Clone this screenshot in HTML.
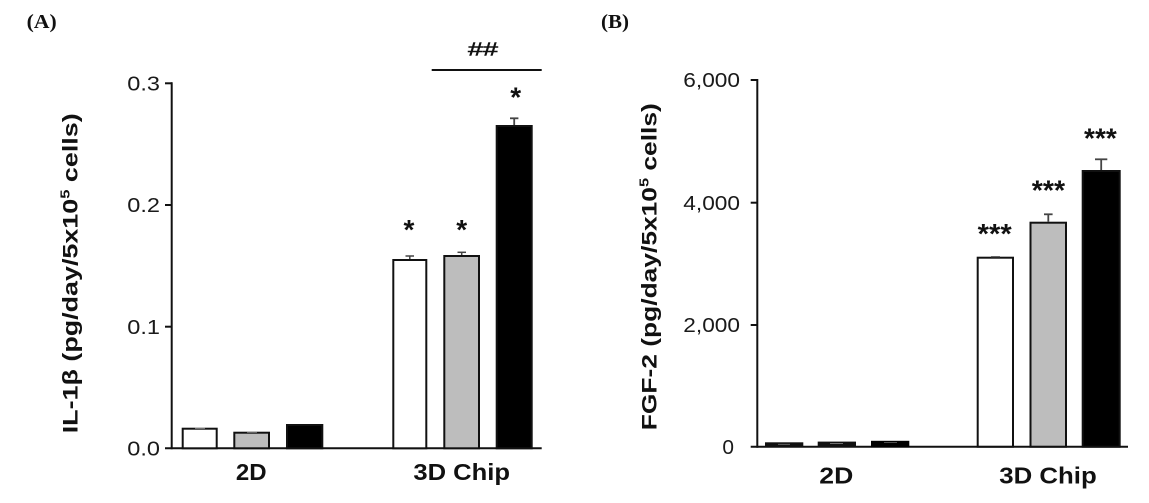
<!DOCTYPE html>
<html>
<head>
<meta charset="utf-8">
<style>
  html, body { margin: 0; padding: 0; background: #ffffff; }
  body { width: 1149px; height: 503px; overflow: hidden; }
  svg { display: block; }
  .tick { font-family: "Liberation Sans", Arial, sans-serif; font-size: 20px; fill: #1a1a1a; }
  .xl { font-family: "Liberation Sans", Arial, sans-serif; font-size: 23px; font-weight: bold; fill: #111; }
  .yt { font-family: "Liberation Sans", Arial, sans-serif; font-size: 21px; font-weight: bold; fill: #111; }
  .ast { font-family: "Liberation Sans", Arial, sans-serif; font-size: 28px; font-weight: bold; fill: #111; }
  .pl { font-family: "Liberation Serif", "Times New Roman", serif; font-size: 20px; font-weight: bold; fill: #111; }
</style>
</head>
<body>
<svg width="1149" height="503" viewBox="0 0 1149 503" xmlns="http://www.w3.org/2000/svg">
  <rect x="0" y="0" width="1149" height="503" fill="#ffffff"/>

  <!-- ================= PANEL A ================= -->
  <text class="pl" x="26.7" y="28" textLength="30" lengthAdjust="spacingAndGlyphs">(A)</text>

  <!-- Y axis title A -->
  <text class="yt" transform="translate(77.5,273.3) rotate(-90)" text-anchor="middle" textLength="320" lengthAdjust="spacingAndGlyphs">IL-1β (pg/day/5x10<tspan font-size="13" dy="-8">5</tspan><tspan dy="8"> cells)</tspan></text>

  <!-- axes A -->
  <line x1="171.7" y1="82.3" x2="171.7" y2="449.3" stroke="#111" stroke-width="2"/>
  <line x1="165" y1="448.3" x2="541.7" y2="448.3" stroke="#111" stroke-width="2"/>
  <line x1="165" y1="83.3" x2="172" y2="83.3" stroke="#111" stroke-width="2"/>
  <line x1="165" y1="205" x2="172" y2="205" stroke="#111" stroke-width="2"/>
  <line x1="165" y1="326.7" x2="172" y2="326.7" stroke="#111" stroke-width="2"/>

  <!-- tick labels A -->
  <text class="tick" x="160" y="90.5" text-anchor="end" textLength="32.7" lengthAdjust="spacingAndGlyphs">0.3</text>
  <text class="tick" x="160" y="212.2" text-anchor="end" textLength="32.7" lengthAdjust="spacingAndGlyphs">0.2</text>
  <text class="tick" x="160" y="333.9" text-anchor="end" textLength="32.7" lengthAdjust="spacingAndGlyphs">0.1</text>
  <text class="tick" x="160" y="455.5" text-anchor="end" textLength="32.7" lengthAdjust="spacingAndGlyphs">0.0</text>

  <!-- bars A 2D -->
  <rect x="182.7" y="428.7" width="34" height="19.6" fill="#ffffff" stroke="#111" stroke-width="2"/>
  <rect x="234.3" y="432.7" width="34.7" height="15.6" fill="#bdbdbd" stroke="#111" stroke-width="2"/>
  <rect x="287" y="425" width="35.3" height="23.3" fill="#000000" stroke="#111" stroke-width="2"/>
  <line x1="195" y1="428.2" x2="205" y2="428.2" stroke="#999" stroke-width="1"/>
  <line x1="247" y1="432.2" x2="257" y2="432.2" stroke="#888" stroke-width="1"/>

  <!-- bars A 3D -->
  <rect x="393.3" y="260" width="33" height="188.3" fill="#ffffff" stroke="#111" stroke-width="2"/>
  <rect x="444.3" y="256" width="34.7" height="192.3" fill="#bdbdbd" stroke="#111" stroke-width="2"/>
  <rect x="496.7" y="126" width="35" height="322.3" fill="#000000" stroke="#111" stroke-width="2"/>

  <!-- error bars A -->
  <line x1="409.8" y1="259" x2="409.8" y2="256" stroke="#444" stroke-width="1.5"/>
  <line x1="405.5" y1="256" x2="414" y2="256" stroke="#444" stroke-width="1.5"/>
  <line x1="461.7" y1="255" x2="461.7" y2="252.3" stroke="#444" stroke-width="1.5"/>
  <line x1="457.5" y1="252.3" x2="466" y2="252.3" stroke="#444" stroke-width="1.5"/>
  <line x1="514.2" y1="125" x2="514.2" y2="118.3" stroke="#444" stroke-width="1.8"/>
  <line x1="510" y1="118.3" x2="518.4" y2="118.3" stroke="#444" stroke-width="1.8"/>

  <!-- significance A -->
  <line x1="431.7" y1="70" x2="541.7" y2="70" stroke="#111" stroke-width="2"/>
  <text x="483" y="55.5" text-anchor="middle" font-family="Liberation Sans, Arial, sans-serif" font-size="18" fill="#111" stroke="#111" stroke-width="0.5" textLength="30" lengthAdjust="spacingAndGlyphs">##</text>
  <text class="ast" x="409" y="239" text-anchor="middle">*</text>
  <text class="ast" x="461.7" y="239" text-anchor="middle">*</text>
  <text class="ast" x="515.7" y="106.7" text-anchor="middle">*</text>

  <!-- x labels A -->
  <text class="xl" x="251.3" y="480" text-anchor="middle" textLength="30.7" lengthAdjust="spacingAndGlyphs">2D</text>
  <text class="xl" x="461.7" y="480" text-anchor="middle" textLength="96.7" lengthAdjust="spacingAndGlyphs">3D Chip</text>

  <!-- ================= PANEL B ================= -->
  <text class="pl" x="601" y="28" textLength="28" lengthAdjust="spacingAndGlyphs">(B)</text>

  <!-- Y axis title B -->
  <text class="yt" transform="translate(656.7,266.7) rotate(-90)" text-anchor="middle" textLength="327" lengthAdjust="spacingAndGlyphs">FGF-2 (pg/day/5x10<tspan font-size="13" dy="-8">5</tspan><tspan dy="8"> cells)</tspan></text>

  <!-- axes B -->
  <line x1="757.3" y1="79" x2="757.3" y2="447.7" stroke="#111" stroke-width="2"/>
  <line x1="750.7" y1="446.7" x2="1128" y2="446.7" stroke="#111" stroke-width="2"/>
  <line x1="750.7" y1="80" x2="757.5" y2="80" stroke="#111" stroke-width="2"/>
  <line x1="750.7" y1="202.7" x2="757.5" y2="202.7" stroke="#111" stroke-width="2"/>
  <line x1="750.7" y1="325" x2="757.5" y2="325" stroke="#111" stroke-width="2"/>

  <!-- tick labels B -->
  <text class="tick" x="740" y="87.2" text-anchor="end" textLength="56.7" lengthAdjust="spacingAndGlyphs">6,000</text>
  <text class="tick" x="740" y="209.9" text-anchor="end" textLength="56.7" lengthAdjust="spacingAndGlyphs">4,000</text>
  <text class="tick" x="740" y="332.2" text-anchor="end" textLength="56.7" lengthAdjust="spacingAndGlyphs">2,000</text>
  <text class="tick" x="734" y="453.9" text-anchor="end" textLength="11.6" lengthAdjust="spacingAndGlyphs">0</text>

  <!-- bars B 2D (tiny, appear as thick black strips) -->
  <rect x="765" y="442.3" width="38.3" height="5" fill="#111"/>
  <line x1="778" y1="444.3" x2="790" y2="444.3" stroke="#777" stroke-width="0.8"/>
  <rect x="817.7" y="441.6" width="38.3" height="5.7" fill="#111"/>
  <line x1="830" y1="443.6" x2="843" y2="443.6" stroke="#888" stroke-width="0.8"/>
  <rect x="871" y="440.8" width="38.3" height="6.5" fill="#000"/>
  <line x1="884" y1="442.6" x2="897" y2="442.6" stroke="#666" stroke-width="0.8"/>

  <!-- bars B 3D -->
  <rect x="977.7" y="257.7" width="35.3" height="189" fill="#ffffff" stroke="#111" stroke-width="2"/>
  <rect x="1030.5" y="222.7" width="35.5" height="224" fill="#bdbdbd" stroke="#111" stroke-width="2"/>
  <rect x="1082.7" y="171" width="37" height="275.7" fill="#000000" stroke="#111" stroke-width="2"/>

  <!-- error bars B -->
  <line x1="991" y1="256.7" x2="1000" y2="256.7" stroke="#555" stroke-width="1.2"/>
  <line x1="1048.3" y1="221.7" x2="1048.3" y2="214.3" stroke="#444" stroke-width="1.8"/>
  <line x1="1044" y1="214.3" x2="1052.6" y2="214.3" stroke="#444" stroke-width="1.8"/>
  <line x1="1101.2" y1="170" x2="1101.2" y2="159.3" stroke="#444" stroke-width="1.8"/>
  <line x1="1095" y1="159.3" x2="1107.3" y2="159.3" stroke="#444" stroke-width="1.8"/>

  <!-- significance B -->
  <text class="ast" x="994.7" y="243" text-anchor="middle" textLength="34" lengthAdjust="spacingAndGlyphs">***</text>
  <text class="ast" x="1048.4" y="199.7" text-anchor="middle" textLength="33.3" lengthAdjust="spacingAndGlyphs">***</text>
  <text class="ast" x="1100.4" y="147.4" text-anchor="middle" textLength="32.7" lengthAdjust="spacingAndGlyphs">***</text>

  <!-- x labels B -->
  <text class="xl" x="836.3" y="483.3" text-anchor="middle" textLength="34" lengthAdjust="spacingAndGlyphs">2D</text>
  <text class="xl" x="1048" y="483.3" text-anchor="middle" textLength="97.4" lengthAdjust="spacingAndGlyphs">3D Chip</text>
</svg>
</body>
</html>
